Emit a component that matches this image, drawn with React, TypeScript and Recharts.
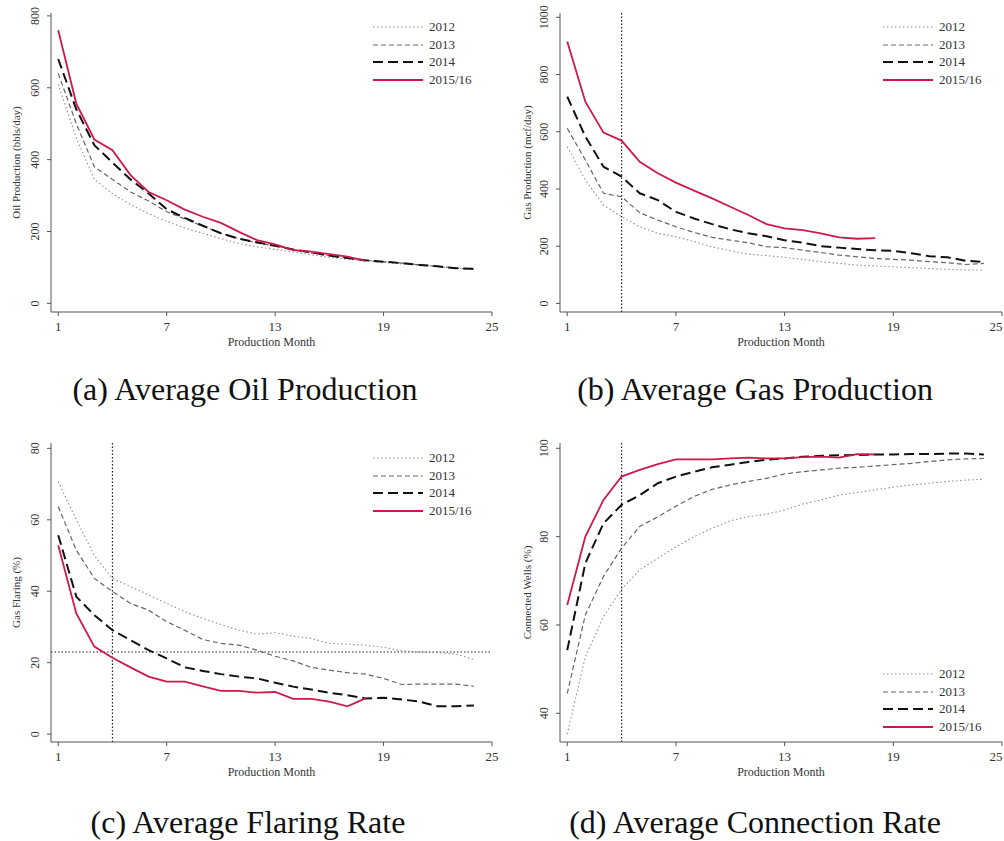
import React from "react";
import {
  LineChart,
  Line,
  XAxis,
  YAxis,
  ReferenceLine,
} from "recharts";

// production month 1..24
const months = Array.from({ length: 24 }, (_, i) => i + 1);
const xTicks = [1, 7, 13, 19, 25];
const seriesNames = ["2012", "2013", "2014", "2015/16"];

// (a) oil, bbls/day
const oil2012 = [610, 460, 345, 305, 275, 250, 228, 210, 195, 180, 167, 157, 150, 143, 135, 128, 123, 118, 114, 110, 106, 102, 98, 95];
const oil2013 = [640, 500, 380, 345, 310, 285, 255, 235, 215, 195, 180, 168, 160, 150, 140, 133, 126, 120, 116, 112, 107, 103, 98, 95];
const oil2014 = [680, 540, 440, 392, 345, 306, 262, 238, 216, 195, 180, 170, 160, 150, 142, 133, 126, 120, 116, 112, 107, 103, 98, 96];
const oil2015 = [760, 556, 456, 426, 357, 310, 287, 261, 241, 224, 199, 176, 164, 148, 144, 137, 130, 118];

// (b) gas, mcf/day
const gas2012 = [548, 431, 344, 303, 268, 245, 233, 216, 198, 184, 172, 167, 161, 154, 146, 140, 134, 131, 128, 125, 122, 119, 117, 117];
const gas2013 = [612, 501, 385, 373, 317, 291, 268, 248, 231, 221, 212, 198, 195, 186, 178, 169, 163, 157, 154, 151, 146, 142, 136, 140];
const gas2014 = [723, 583, 478, 443, 385, 361, 320, 297, 277, 259, 245, 235, 221, 212, 200, 195, 190, 186, 184, 175, 165, 161, 149, 145];
const gas2015 = [915, 705, 597, 569, 495, 455, 422, 394, 367, 338, 309, 277, 262, 256, 245, 231, 226, 228];

// (c) flaring, %
const flare2012 = [70.7, 60, 50, 43.6, 41.3, 39, 36.6, 34.3, 32.4, 30.7, 29.1, 28, 28.4, 27.4, 26.8, 25.4, 25.2, 24.9, 24.3, 23.3, 23, 22.8, 22.4, 20.9];
const flare2013 = [63.7, 51.5, 43.6, 39.9, 36.6, 34.7, 31.5, 29.1, 26.5, 25.4, 24.9, 23.5, 21.8, 20.5, 18.7, 17.9, 17.2, 16.8, 15.6, 13.9, 14, 14, 14, 13.4];
const flare2014 = [55.7, 38.5, 33.3, 29.1, 26.3, 23.5, 21.2, 18.7, 17.7, 16.8, 16.1, 15.6, 14.4, 13.3, 12.5, 11.6, 10.9, 10, 10.2, 9.7, 9.1, 7.8, 7.8, 8];
const flare2015 = [52.9, 33.8, 24.5, 21.4, 18.7, 16.1, 14.7, 14.7, 13.4, 12.1, 12.1, 11.6, 11.8, 9.9, 9.9, 9.1, 7.8, 10];

// (d) connected wells, %
const conn2012 = [35.3, 52.8, 61.9, 68.1, 72.5, 75.1, 77.7, 80, 81.9, 83.6, 84.5, 85.1, 86, 87.4, 88.3, 89.4, 90, 90.6, 91.2, 91.7, 92.1, 92.5, 92.8, 93];
const conn2013 = [44.5, 62.3, 71, 77.4, 82.3, 84.5, 86.9, 89.1, 90.7, 91.7, 92.5, 93.2, 94.2, 94.7, 95.1, 95.5, 95.7, 96, 96.3, 96.6, 97, 97.4, 97.6, 97.7];
const conn2014 = [54.3, 74, 83, 87.2, 89.4, 92.1, 93.6, 94.7, 95.7, 96.3, 96.9, 97.4, 97.7, 98.1, 98.3, 98.4, 98.5, 98.6, 98.6, 98.7, 98.7, 98.8, 98.8, 98.6];
const conn2015 = [64.5, 80, 88.3, 93.6, 95.1, 96.4, 97.5, 97.5, 97.5, 97.7, 97.9, 97.7, 97.7, 98, 98.1, 97.9, 98.7, 98.6];

const styles = [
  { color: "#8f8f8f", width: 1.1, dash: "1.5 2.5" },
  { color: "#666666", width: 1.2, dash: "5 3" },
  { color: "#111111", width: 2, dash: "10 5" },
  { color: "#cc1a4c", width: 1.8, dash: undefined as string | undefined },
];

const FONT = "'Liberation Serif', 'Times New Roman', serif";

function toRows(s: number[][]) {
  return months.map((m, i) => {
    const row: Record<string, number | null> = { month: m };
    seriesNames.forEach((name, k) => {
      row[name] = s[k][i] ?? null;
    });
    return row;
  });
}

const YTick = (props: any) => {
  const { x, y, payload } = props;
  const bx = x - 6;
  return (
    <text
      x={bx}
      y={y}
      transform={`rotate(-90 ${bx} ${y})`}
      textAnchor="middle"
      fontSize={12}
      fill="#333"
      fontFamily={FONT}
    >
      {payload.value}
    </text>
  );
};

const XTick = (props: any) => {
  const { x, y, payload } = props;
  return (
    <text x={x} y={y + 13} textAnchor="middle" fontSize={13} fill="#333" fontFamily={FONT}>
      {payload.value}
    </text>
  );
};

const LegendBox = ({ left, top }: { left: number; top: number }) => (
  <div style={{ position: "absolute", left, top, fontFamily: FONT, fontSize: 13, color: "#333" }}>
    {seriesNames.map((name, k) => (
      <div key={name} style={{ display: "flex", alignItems: "center", height: 17.7 }}>
        <svg width={50} height={6} style={{ display: "block" }}>
          <line
            x1={0}
            y1={3}
            x2={50}
            y2={3}
            stroke={styles[k].color}
            strokeWidth={styles[k].width}
            strokeDasharray={styles[k].dash}
          />
        </svg>
        <span style={{ marginLeft: 6 }}>{name}</span>
      </div>
    ))}
  </div>
);

type PanelProps = {
  left: number;
  top: number;
  width: number;
  yWidth: number;
  yTitle: string;
  yTitleX: number;
  yDomain: [number, number];
  yTicks: number[];
  data: number[][];
  legendTop: number;
  legendLeft: number;
  vline?: number;
  hline?: number;
};

function Panel(p: PanelProps) {
  const rows = toRows(p.data);
  const plotRight = p.yWidth === 51 ? 492 : 502;
  return (
    <div style={{ position: "absolute", left: p.left, top: p.top, width: p.width, height: 350, overflow: "hidden" }}>
      <LineChart
        width={p.width}
        height={350}
        data={rows}
        margin={{ top: 13, right: p.width - plotRight, left: 0, bottom: 4 }}
      >
        <XAxis
          dataKey="month"
          type="number"
          domain={[0.6, 25]}
          ticks={xTicks}
          allowDataOverflow
          stroke="#555"
          tickSize={4}
          tick={<XTick />}
          height={34}
          label={{
            value: "Production Month",
            position: "insideBottom",
            offset: 0,
            fontSize: 12,
            fill: "#333",
            fontFamily: FONT,
          }}
        />
        <YAxis
          type="number"
          domain={p.yDomain}
          ticks={p.yTicks}
          allowDataOverflow
          width={p.yWidth}
          stroke="#555"
          tickSize={4}
          tick={<YTick />}
          label={{
            value: p.yTitle,
            angle: -90,
            position: "insideLeft",
            offset: p.yTitleX,
            fontSize: 11,
            fill: "#333",
            fontFamily: FONT,
            style: { textAnchor: "middle" },
          }}
        />
        {p.vline !== undefined && (
          <ReferenceLine x={p.vline} stroke="#222" strokeDasharray="1.5 2" strokeWidth={1.2} />
        )}
        {p.hline !== undefined && (
          <ReferenceLine y={p.hline} stroke="#222" strokeDasharray="1.5 2" strokeWidth={1.2} />
        )}
        {seriesNames.map((name, k) => (
          <Line
            key={name}
            type="linear"
            dataKey={name}
            stroke={styles[k].color}
            strokeWidth={styles[k].width}
            strokeDasharray={styles[k].dash}
            dot={false}
            connectNulls={false}
            isAnimationActive={false}
          />
        ))}
      </LineChart>
      <LegendBox left={p.legendLeft} top={p.legendTop} />
    </div>
  );
}

const captionStyle: React.CSSProperties = {
  position: "absolute",
  fontFamily: FONT,
  fontSize: 32,
  color: "#111",
  textAlign: "center",
  width: 500,
  whiteSpace: "nowrap",
};

export default function App() {
  return (
    <div style={{ position: "absolute", left: 0, top: 0, width: 1004, height: 841, background: "#fff", overflow: "hidden" }}>
      <Panel
        left={0}
        top={0}
        width={500}
        yWidth={51}
        yTitle="Oil Production (bbls/day)"
        yTitleX={16}
        yDomain={[-24, 808]}
        yTicks={[0, 200, 400, 600, 800]}
        data={[oil2012, oil2013, oil2014, oil2015]}
        legendTop={18}
        legendLeft={373}
      />
      <Panel
        left={500}
        top={0}
        width={504}
        yWidth={60}
        yTitle="Gas Production (mcf/day)"
        yTitleX={27}
        yDomain={[-30, 1015]}
        yTicks={[0, 200, 400, 600, 800, 1000]}
        data={[gas2012, gas2013, gas2014, gas2015]}
        legendTop={18}
        legendLeft={383}
        vline={4}
      />
      <Panel
        left={0}
        top={430}
        width={500}
        yWidth={51}
        yTitle="Gas Flaring (%)"
        yTitleX={16}
        yDomain={[-2.2, 81.5]}
        yTicks={[0, 20, 40, 60, 80]}
        data={[flare2012, flare2013, flare2014, flare2015]}
        legendTop={19}
        legendLeft={373}
        vline={4}
        hline={23}
      />
      <Panel
        left={500}
        top={430}
        width={504}
        yWidth={60}
        yTitle="Connected Wells (%)"
        yTitleX={27}
        yDomain={[33.5, 101.2]}
        yTicks={[40, 60, 80, 100]}
        data={[conn2012, conn2013, conn2014, conn2015]}
        legendTop={235}
        legendLeft={383}
        vline={4}
      />
      <div style={{ ...captionStyle, left: -5, top: 371 }}>(a) Average Oil Production</div>
      <div style={{ ...captionStyle, left: 505, top: 371 }}>(b) Average Gas Production</div>
      <div style={{ ...captionStyle, left: -2, top: 804 }}>(c) Average Flaring Rate</div>
      <div style={{ ...captionStyle, left: 505, top: 804 }}>(d) Average Connection Rate</div>
    </div>
  );
}
